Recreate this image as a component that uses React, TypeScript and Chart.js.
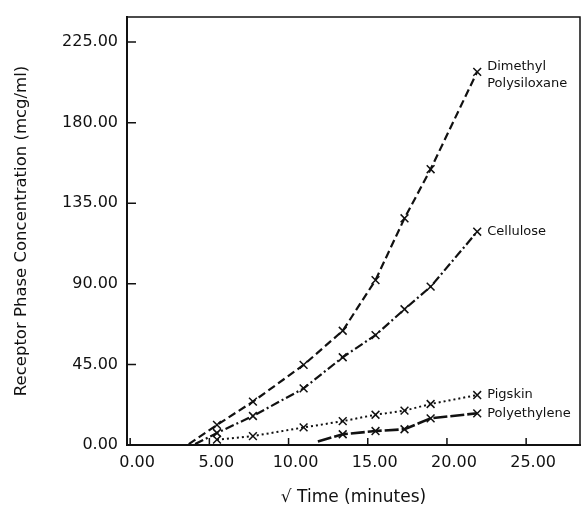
import { useEffect, useRef } from "react";
import { Chart, registerables } from "chart.js";

Chart.register(...registerables);

// Axis tick values
const timeTicks = [0, 5, 10, 15, 20, 25];
const concTicks = [0, 45, 90, 135, 180, 225];

// Sampling times (square root of minutes: 30, 60, 120, 180, 240, 300, 360, 480)
const dimethylX = [3.7, 5.48, 7.75, 10.95, 13.42, 15.49, 17.32, 18.97, 21.91];
const dimethylY = [0.5, 11.2, 24.2, 44.7, 63.8, 92.1, 126.6, 154.0, 208.4];

const celluloseX = [4.1, 5.48, 7.75, 10.95, 13.42, 15.49, 17.32, 18.97, 21.91];
const celluloseY = [0.5, 6.7, 16.2, 31.6, 49.0, 61.4, 75.8, 88.4, 119.1];

const pigskinX = [5.48, 7.75, 10.95, 13.42, 15.49, 17.32, 18.97, 21.91];
const pigskinY = [3.0, 5.0, 9.8, 13.3, 16.9, 19.2, 22.9, 27.9];

const polyX = [11.85, 13.42, 15.49, 17.32, 18.97, 21.91];
const polyY = [2.0, 6.0, 7.8, 8.8, 14.9, 17.7];

// Curve names written beside the last point of each curve
const dimethylLabel = ["Dimethyl", "Polysiloxane"];
const celluloseLabel = ["Cellulose"];
const pigskinLabel = ["Pigskin"];
const polyLabel = ["Polyethylene"];

const INK = "#111";
const FONT = "'DejaVu Sans', sans-serif";

type Series = {
  xs: number[];
  ys: number[];
  leadIn: boolean; // first point only starts the line, no marker
  dash: number[];
  width: number;
  label: string[];
};

const series: Series[] = [
  { xs: dimethylX, ys: dimethylY, leadIn: true, dash: [8, 4], width: 2.2, label: dimethylLabel },
  { xs: celluloseX, ys: celluloseY, leadIn: true, dash: [9, 3, 2, 3], width: 2.2, label: celluloseLabel },
  { xs: pigskinX, ys: pigskinY, leadIn: false, dash: [2, 3], width: 2, label: pigskinLabel },
  { xs: polyX, ys: polyY, leadIn: true, dash: [14, 3], width: 2.6, label: polyLabel },
];

const decorations = {
  id: "decorations",
  afterDatasetsDraw(chart: any) {
    const { ctx, chartArea, scales } = chart;
    const xs = scales.x;
    const ys = scales.y;
    ctx.save();
    ctx.strokeStyle = INK;

    // frame: top and right edges
    ctx.lineWidth = 1.5;
    ctx.beginPath();
    ctx.moveTo(chartArea.left, chartArea.top);
    ctx.lineTo(chartArea.right, chartArea.top);
    ctx.lineTo(chartArea.right, chartArea.bottom);
    ctx.stroke();

    // inward tick marks
    ctx.lineWidth = 1.5;
    ctx.beginPath();
    for (const v of concTicks) {
      const py = ys.getPixelForValue(v);
      ctx.moveTo(chartArea.left, py);
      ctx.lineTo(chartArea.left + 9, py);
    }
    for (const v of timeTicks) {
      const px = xs.getPixelForValue(v);
      ctx.moveTo(px, chartArea.bottom);
      ctx.lineTo(px, chartArea.bottom - 7);
    }
    ctx.stroke();

    // curve names
    ctx.fillStyle = INK;
    ctx.font = `13px ${FONT}`;
    ctx.textAlign = "left";
    ctx.textBaseline = "middle";
    chart.data.datasets.forEach((ds: any, i: number) => {
      const meta = chart.getDatasetMeta(i);
      const last = meta.data[meta.data.length - 1];
      const lines: string[] = ds.curveLabel;
      const y0 = lines.length > 1 ? last.y - 5 : last.y;
      lines.forEach((t, k) => ctx.fillText(t, last.x + 10, y0 + k * 17));
    });
    ctx.restore();
  },
};

export default function App() {
  const ref = useRef<HTMLCanvasElement | null>(null);

  useEffect(() => {
    if (!ref.current) return;
    const chart = new Chart(ref.current, {
      type: "scatter",
      data: {
        datasets: series.map((s) => ({
          data: s.xs.map((x, i) => ({ x, y: s.ys[i] })),
          showLine: true,
          borderColor: INK,
          borderWidth: s.width,
          borderDash: s.dash,
          tension: 0,
          pointStyle: "crossRot",
          pointRadius: (c: any) => (s.leadIn && c.dataIndex === 0 ? 0 : 5.5),
          pointBorderWidth: 1.5,
          pointBorderColor: INK,
          pointBackgroundColor: INK,
          curveLabel: s.label,
        })) as any,
      },
      options: {
        animation: false,
        responsive: false,
        devicePixelRatio: 1,
        layout: { autoPadding: false, padding: { left: 0, top: 17, right: 2, bottom: 0 } },
        plugins: {
          legend: { display: false },
          tooltip: { enabled: false },
        },
        scales: {
          x: {
            type: "linear",
            min: -0.2,
            max: 28.4,
            afterBuildTicks: (sc: any) => {
              sc.ticks = timeTicks.map((v) => ({ value: v }));
            },
            afterFit: (sc: any) => {
              sc.height = 68;
              sc.paddingLeft = 0;
              sc.paddingRight = 0;
            },
            grid: { display: false, drawTicks: false },
            border: { display: true, color: INK, width: 2 },
            ticks: {
              color: INK,
              font: { family: FONT, size: 16 },
              padding: 8,
              labelOffset: 7,
              maxRotation: 0,
              callback: (v: any) => Number(v).toFixed(2),
            },
            title: {
              display: true,
              text: "\u221A Time (minutes)",
              color: INK,
              font: { family: FONT, size: 17 },
              padding: { top: 0, bottom: 5 },
            },
          },
          y: {
            type: "linear",
            min: 0,
            max: 239,
            afterBuildTicks: (sc: any) => {
              sc.ticks = concTicks.map((v) => ({ value: v }));
            },
            afterFit: (sc: any) => {
              sc.width = 127;
              sc.paddingTop = 0;
              sc.paddingBottom = 0;
            },
            grid: { display: false, drawTicks: false },
            border: { display: true, color: INK, width: 2 },
            ticks: {
              color: INK,
              font: { family: FONT, size: 16 },
              padding: 9,
              callback: (v: any) => Number(v).toFixed(2),
            },
            title: {
              display: true,
              text: "Receptor Phase Concentration (mcg/ml)",
              color: INK,
              font: { family: FONT, size: 16.5 },
              padding: { top: 12, bottom: 0 },
            },
          },
        },
      },
      plugins: [decorations],
    });
    return () => chart.destroy();
  }, []);

  return (
    <div style={{ position: "fixed", left: 0, top: 0, width: 582, height: 513, background: "#fff" }}>
      <canvas ref={ref} width={582} height={513} style={{ display: "block" }} />
    </div>
  );
}
